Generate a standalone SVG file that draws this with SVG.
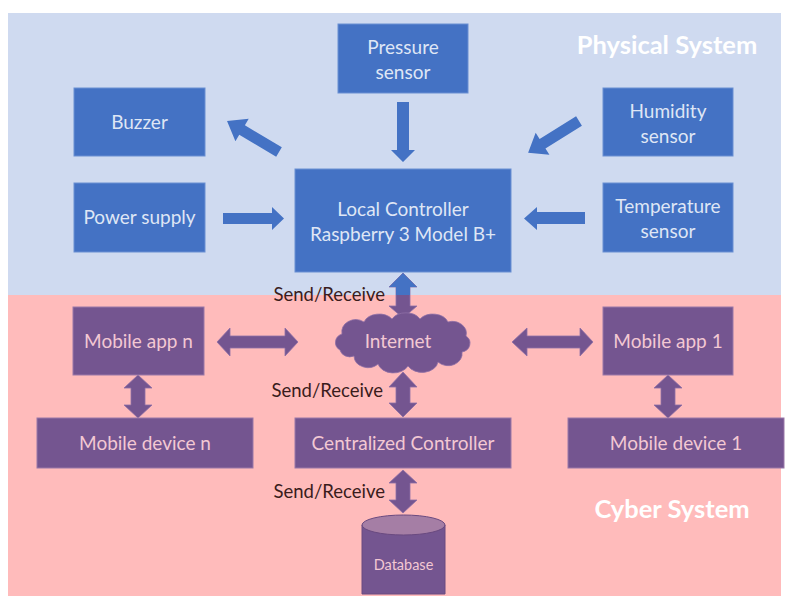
<svg xmlns="http://www.w3.org/2000/svg" width="791" height="596" viewBox="0 0 791 596">
<defs>
<style>
.bbox{fill:#4472c4;stroke:#6a8fd2;stroke-width:1}
.pbox{fill:#745590;stroke:#9a78a8;stroke-width:1}
.btxt{font-family:Lato,"Open Sans",sans-serif;font-size:19px;fill:#dfe6f5;text-anchor:middle}
.ptxt{font-family:Lato,"Open Sans",sans-serif;font-size:19px;fill:#f3c8d3;text-anchor:middle}
.title{font-family:Lato,"Open Sans",sans-serif;font-size:25.5px;font-weight:bold;fill:#ffffff;text-anchor:middle}
.lbl{font-family:Lato,"Open Sans",sans-serif;font-size:18.5px;fill:#3a1c1c;text-anchor:end}
.barr{fill:#4472c4}
.parr{fill:#745590;stroke:#8e6ea6;stroke-width:0.8}
</style>
<clipPath id="topClip"><rect x="0" y="0" width="791" height="295"/></clipPath>
</defs>
<rect x="0" y="0" width="791" height="596" fill="#ffffff"/>
<rect x="8" y="13" width="773" height="282" fill="#cfdaf0"/>
<rect x="8" y="295" width="773" height="301" fill="#ffbbbb"/>
<text class="title" x="667" y="54">Physical System</text>
<text class="title" x="672" y="518">Cyber System</text>

<g id="connectors">
<polygon class="barr" points="397,102 409,102 409,150 415,150 403,162 391,150 397,150"/>
<polygon class="barr" points="223,213 272,213 272,207 284,218.5 272,230 272,224 223,224"/>
<polygon class="barr" points="585,212 537,212 537,207 524,218.5 537,230 537,224 585,224"/>
<polygon class="barr" transform="translate(279,152) rotate(210.8)" points="0,-5.5 43,-5.5 43,-13 60.5,0 43,13 43,5.5 0,5.5"/>
<polygon class="barr" transform="translate(579,121) rotate(148)" points="0,-5.5 43,-5.5 43,-13 60,0 43,13 43,5.5 0,5.5"/>
<g id="lc-internet">
<polygon class="parr" points="403,273 417,287 410,287 410,306 417,306 403,318 389,306 396,306 396,287 389,287"/>
<polygon class="barr" clip-path="url(#topClip)" points="403,273 417,287 410,287 410,306 417,306 403,318 389,306 396,306 396,287 389,287"/>
</g>
<polygon class="parr" points="403,372 417,387 410,387 410,403 417,403 403,417 389,403 396,403 396,387 389,387"/>
<polygon class="parr" points="403,470 417,483 410,483 410,500 417,500 403,513 389,500 396,500 396,483 389,483"/>
<polygon class="parr" points="138,375 152,388 145,388 145,405 152,405 138,418 124,405 131,405 131,388 124,388"/>
<polygon class="parr" points="668,375 682,388 675,388 675,405 682,405 668,418 654,405 661,405 661,388 654,388"/>
<polygon class="parr" points="217,342 230,328 230,336 285,336 285,328 298,342 285,356 285,348 230,348 230,356"/>
<polygon class="parr" points="512,342 527,328 527,336 580,336 580,328 593,342 580,356 580,348 527,348 527,356"/>
<text class="lbl" x="385" y="301">Send/Receive</text>
<text class="lbl" x="383" y="397">Send/Receive</text>
<text class="lbl" x="385" y="498">Send/Receive</text>
</g>

<g id="pressure"><rect class="bbox" x="338" y="24" width="130" height="69"/><text class="btxt" x="403" y="54">Pressure</text><text class="btxt" x="403" y="79">sensor</text></g>
<g id="buzzer"><rect class="bbox" x="74" y="88" width="131" height="68"/><text class="btxt" x="139.5" y="129">Buzzer</text></g>
<g id="power"><rect class="bbox" x="74" y="183" width="131" height="69"/><text class="btxt" x="139.5" y="224">Power supply</text></g>
<g id="humidity"><rect class="bbox" x="603" y="88" width="130" height="68"/><text class="btxt" x="668" y="118">Humidity</text><text class="btxt" x="668" y="143">sensor</text></g>
<g id="temperature"><rect class="bbox" x="603" y="183" width="130" height="69"/><text class="btxt" x="668" y="213">Temperature</text><text class="btxt" x="668" y="238">sensor</text></g>
<g id="local"><rect class="bbox" x="295" y="169" width="216" height="103"/><text class="btxt" x="403" y="216">Local Controller</text><text class="btxt" x="403" y="241">Raspberry 3 Model B+</text></g>

<g id="internet"><path fill="#745590" stroke="#8e6ea6" stroke-width="0.8" d="M340 350 a10 9 0 0 1 2 -16 a14 12 0 0 1 22 -12 a16 12 0 0 1 28 -3 a16 12 0 0 1 28 0 a16 12 0 0 1 28 3 a14 12 0 0 1 18 14 a10 9 0 0 1 -4 16 a14 12 0 0 1 -24 10 a16 12 0 0 1 -30 4 a16 12 0 0 1 -30 -2 a14 12 0 0 1 -24 -8 a10 9 0 0 1 -14 -6 Z"/><text class="ptxt" x="398" y="348">Internet</text></g>
<g id="appn"><rect class="pbox" x="73" y="307" width="131" height="68"/><text class="ptxt" x="138.5" y="348">Mobile app n</text></g>
<g id="devn"><rect class="pbox" x="37" y="418" width="216" height="50"/><text class="ptxt" x="145" y="450">Mobile device n</text></g>
<g id="app1"><rect class="pbox" x="603" y="307" width="130" height="68"/><text class="ptxt" x="668" y="348">Mobile app 1</text></g>
<g id="dev1"><rect class="pbox" x="568" y="418" width="216" height="50"/><text class="ptxt" x="676" y="450">Mobile device 1</text></g>
<g id="central"><rect class="pbox" x="295" y="418" width="216" height="50"/><text class="ptxt" x="403" y="450">Centralized Controller</text></g>
<g id="database"><path fill="#745590" stroke="#6a4a80" stroke-width="1" d="M362 525 L362 594 L445 594 L445 525 Z"/><ellipse cx="403.5" cy="525" rx="41.5" ry="10" fill="#a57ea5" stroke="#6a4a80" stroke-width="1"/><text class="ptxt" x="403.5" y="570" style="font-size:14.5px">Database</text></g>
</svg>
